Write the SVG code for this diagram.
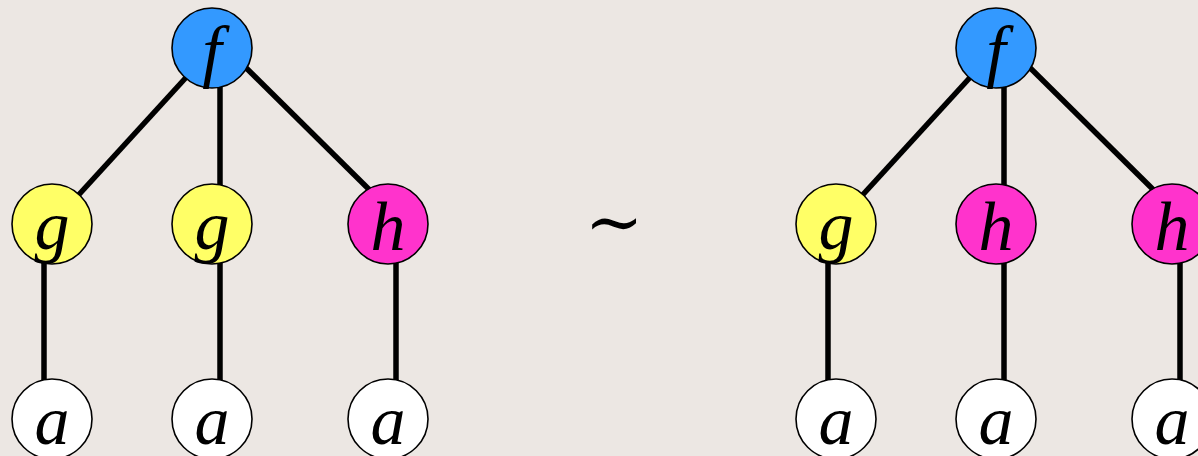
<svg xmlns="http://www.w3.org/2000/svg" width="1198" height="456" viewBox="0 0 1198 456">
<style>
.e{stroke:#000;stroke-width:5.5;fill:none}
.n{stroke:#000;stroke-width:1.6}
.t{font-family:"Liberation Serif","Times New Roman",serif;font-style:italic;font-size:70px;text-anchor:middle;fill:#000}
.b{fill:#3399FF}.y{fill:#FFFF66}.m{fill:#FF33CC}.w{fill:#FFFFFF}
</style>
<rect width="1198" height="456" fill="#ECE7E3"/>
<g id="edges">
<line class="e" x1="213" y1="48" x2="52" y2="224"/>
<line class="e" x1="220" y1="48" x2="220" y2="224"/>
<line class="e" x1="226" y1="48" x2="404" y2="224"/>
<line class="e" x1="44" y1="224" x2="44" y2="419"/>
<line class="e" x1="220" y1="224" x2="220" y2="419"/>
<line class="e" x1="396" y1="224" x2="396" y2="419"/>
<line class="e" x1="997" y1="48" x2="836" y2="224"/>
<line class="e" x1="1004" y1="48" x2="1004" y2="224"/>
<line class="e" x1="1010" y1="48" x2="1188" y2="224"/>
<line class="e" x1="828" y1="224" x2="828" y2="419"/>
<line class="e" x1="1004" y1="224" x2="1004" y2="419"/>
<line class="e" x1="1180" y1="224" x2="1180" y2="419"/>
</g>
<g id="L_f"><circle class="n b" cx="212" cy="48" r="40"/><text class="t" x="212" y="74">f</text></g>
<g id="L_g1"><circle class="n y" cx="52" cy="224" r="40"/><text class="t" x="52" y="249">g</text></g>
<g id="L_g2"><circle class="n y" cx="212" cy="224" r="40"/><text class="t" x="212" y="249">g</text></g>
<g id="L_h"><circle class="n m" cx="388" cy="224" r="40"/><text class="t" x="388" y="250">h</text></g>
<g id="L_a1"><circle class="n w" cx="52" cy="419" r="40"/><text class="t" x="52" y="444">a</text></g>
<g id="L_a2"><circle class="n w" cx="212" cy="419" r="40"/><text class="t" x="212" y="444">a</text></g>
<g id="L_a3"><circle class="n w" cx="388" cy="419" r="40"/><text class="t" x="388" y="444">a</text></g>
<g id="sim"><text x="614" y="246" style="font-family:'Liberation Serif','DejaVu Serif',serif;font-size:70px;text-anchor:middle">∼</text></g>
<g id="R_f"><circle class="n b" cx="996" cy="48" r="40"/><text class="t" x="996" y="74">f</text></g>
<g id="R_g"><circle class="n y" cx="836" cy="224" r="40"/><text class="t" x="836" y="249">g</text></g>
<g id="R_h1"><circle class="n m" cx="996" cy="224" r="40"/><text class="t" x="996" y="250">h</text></g>
<g id="R_h2"><circle class="n m" cx="1172" cy="224" r="40"/><text class="t" x="1172" y="250">h</text></g>
<g id="R_a1"><circle class="n w" cx="836" cy="419" r="40"/><text class="t" x="836" y="444">a</text></g>
<g id="R_a2"><circle class="n w" cx="996" cy="419" r="40"/><text class="t" x="996" y="444">a</text></g>
<g id="R_a3"><circle class="n w" cx="1172" cy="419" r="40"/><text class="t" x="1172" y="444">a</text></g>
</svg>
